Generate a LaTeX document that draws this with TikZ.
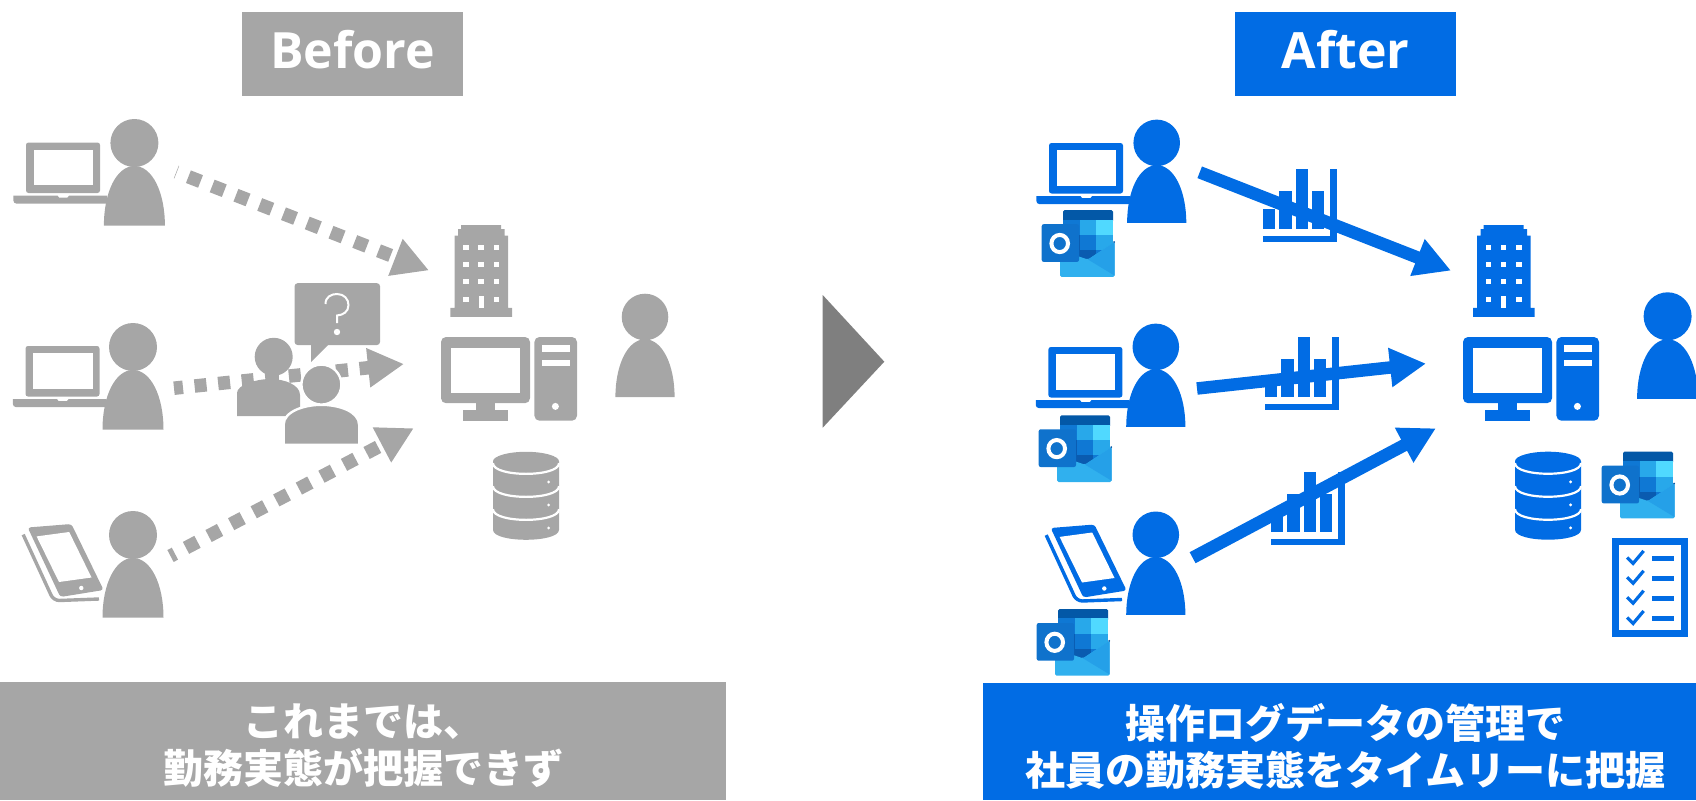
\documentclass[tikz,border=0pt]{standalone}
\usepackage{fontspec}
\setmainfont{Open Sans}
\newfontfamily\jpfont{Noto Sans CJK JP}
\usetikzlibrary{arrows.meta,positioning}
\definecolor{graytone}{HTML}{A6A6A6}
\definecolor{bluetone}{HTML}{016CE4}
\definecolor{darktone}{HTML}{7F7F7F}
\definecolor{olband}{HTML}{0358A7}
\definecolor{olA}{HTML}{0F78D4}
\definecolor{olB}{HTML}{28A8EA}
\definecolor{olC}{HTML}{50D9FF}
\definecolor{olD}{HTML}{0A5BB0}
\definecolor{olF}{HTML}{30B0EE}
\definecolor{olG}{HTML}{25A0E8}
\definecolor{olH}{HTML}{0F72CC}
\tikzset{
  bannerbox/.style={minimum height=84pt,inner sep=0pt},
  bannertext/.style={inner sep=0pt,text=white,font=\bfseries\fontsize{50}{56}\selectfont},
  captionbox/.style={minimum height=118pt,inner sep=0pt},
  captiontext/.style={inner sep=0pt,text=white,align=center,font=\jpfont\bfseries\fontsize{40}{47}\selectfont},
  dasharrow/.style={graytone,line width=13.5pt,dash pattern=on 13pt off 12.5pt,-{Triangle[length=36pt,width=37pt]}},
  solidarrow/.style={bluetone,line width=12.5pt,-{Triangle[length=36pt,width=37pt]}},
  pics/person/.style={code={
    \fill[#1] (0,0.5) ellipse [x radius=24,y radius=24];
    \fill[#1] (-30.5,83) .. controls (-30.5,50) and (-18,23.5) .. (0,23.5)
      .. controls (18,23.5) and (30.5,50) .. (30.5,83) -- cycle;
  }},
  pics/laptop/.style={code={
    \fill[#1,rounded corners=2.5pt] (0,0) rectangle (74,50.5);
    \fill[white] (7.5,7.1) rectangle (67,42.5);
    \fill[#1] (-12.6,53.2) -- (31.6,53.2) -- (33,55) -- (41.5,55) -- (43,53.2) -- (81,53.2)
      -- (81,61.1) -- (-9.6,61.1) .. controls (-11.6,61.1) and (-12.6,59.5) .. (-12.6,58) -- cycle;
  }},
  pics/tablet/.style={code={
    \fill[#1,rounded corners=3pt] (4.7,3.5) -- (48.4,0) -- (80.6,66) -- (37.3,73) -- cycle;
    \fill[white] (13.6,12.4) -- (46.2,8) -- (68.5,53.5) -- (36,58) -- cycle;
    \fill[white] (58.3,64) circle (2.2);
    \draw[#1,line width=3.4pt,rounded corners=6pt] (0.2,10.6) -- (30.6,76.7) -- (76,75);
  }},
  pics/building/.style={code={
    \fill[#1] (0,91.8) -- (0,82.9) -- (4.1,82.9) -- (4.1,10.7) -- (7.6,10.7) -- (7.6,4) -- (10.6,4)
      -- (10.6,0) -- (50.6,0) -- (50.6,4) -- (54.1,4) -- (54.1,10.7) -- (57.6,10.7)
      -- (57.6,82.9) -- (61.6,82.9) -- (61.6,91.8) -- cycle;
    \foreach \wx in {15.6,30.6,46} \foreach \wy in {22,39.6,56.4}
      \fill[white] (\wx-2.75,\wy-2.5) rectangle (\wx+2.75,\wy+2.5);
    \foreach \wx in {15.6,46}
      \fill[white] (\wx-2.75,71.8) rectangle (\wx+2.75,76.8);
    \fill[white] (28.1,71.4) rectangle (33.1,82.9);
  }},
  pics/desktop/.style={code={
    \fill[#1,rounded corners=5pt] (0,0) rectangle (89,66.2);
    \fill[white] (10,10.5) rectangle (79,55.5);
    \fill[#1] (35,66) rectangle (53.6,73.6);
    \fill[#1] (22,73.4) rectangle (67,83.7);
    \fill[#1,rounded corners=5pt] (93.4,0) rectangle (136,83.7);
    \fill[white] (101,8) rectangle (128.6,14.8);
    \fill[white] (101,22.6) rectangle (128.6,29.4);
    \fill[white] (114.4,69.4) circle (3.5);
  }},
  pics/database/.style={code={
    \fill[#1] (-33,9.6) -- (-33,78) .. controls (-33,91.3) and (33,91.3) .. (33,78) -- (33,9.6) -- cycle;
    \fill[#1] (0,9.6) ellipse [x radius=33,y radius=9.6];
    \foreach \dy in {11.4,34.4,57.4}
      \draw[white,line width=2.2pt] (-33,\dy) .. controls (-33,\dy+14.2) and (33,\dy+14.2) .. (33,\dy);
    \foreach \dy in {30.2,53.2,76.2}
      \fill[white] (22.6,\dy) circle (1.6);
  }},
  pics/barchart/.style={code={
    \fill[#1] (0,40.3) rectangle (12.3,60.3);
    \fill[#1] (16.6,22.3) rectangle (29,60.3);
    \fill[#1] (33,0) rectangle (45,60.3);
    \fill[#1] (49.3,22.3) rectangle (61.3,60.3);
    \fill[#1] (67.3,0) rectangle (74,73);
    \fill[#1] (0.6,67) rectangle (74,73);
  }},
  pics/outlook/.style={code={
    \fill[olband,rounded corners=1.5pt] (0,0) rectangle (50,12);
    \fill[olA] (0,9.4) rectangle (16.7,25);
    \fill[olB] (16.7,9.4) rectangle (33.3,25);
    \fill[olC] (33.3,9.4) rectangle (50,25);
    \fill[olD] (0,25) rectangle (16.7,40);
    \fill[olA] (16.7,25) rectangle (33.3,40);
    \fill[olB] (33.3,25) rectangle (50,40);
    \fill[olD] (0,40) rectangle (33.3,52);
    \fill[olA] (33.3,40) rectangle (50,52);
    \fill[olF,rounded corners=1.5pt] (-3,40) -- (25,49.3) -- (51.7,31.7) -- (51.7,66.7) -- (-3,66.7) -- cycle;
    \fill[olG] (25,49.3) -- (51.7,31.7) -- (51.7,65.5) -- cycle;
    \fill[olband] (51.2,31.8) circle (1);
    \fill[olH,rounded corners=2pt] (-21.3,14) rectangle (16,51.7);
    \draw[white,line width=4pt] (-3.3,33.3) ellipse [x radius=8.3,y radius=8.6];
  }},
  pics/checklist/.style={code={
    \draw[#1,line width=7pt] (3.5,3.5) rectangle (72.9,95.2);
    \foreach \ry in {20.6,40.5,60.4,80.7} {
      \draw[#1,line width=3.2pt] (15.5,\ry-1) -- (21.5,\ry+5) -- (32,\ry-7.5);
      \fill[#1] (40.4,\ry-2.3) rectangle (62.2,\ry+2.3);
    }
  }}
}
\begin{document}
\begin{tikzpicture}[x=1pt,y=-1pt]
  \useasboundingbox (0,0) rectangle (1696,800);
  \node [bannerbox,fill=graytone,minimum width=220.7pt] (beforeBox) at (352.4,54) {};
  \node [bannerbox,fill=bluetone,minimum width=221pt] (afterBox) at (1345.5,54) {};
  \node [bannertext] (beforeText) at (352.4,50) {Before};
  \node [bannertext] (afterText) at (1345.5,50) {After};
  \node [captionbox,fill=graytone,minimum width=726pt] (capLeftBox) at (363,741) {};
  \node [captionbox,fill=bluetone,minimum width=713pt,minimum height=117pt] (capRightBox) at (1339.5,741.5) {};
  \node [captiontext] (capLeftText) at (363,746) {これまでは、\\勤務実態が把握できず};
  \node [captiontext] (capRightText) at (1345.5,746) {操作ログデータの管理で\\社員の勤務実態をタイムリーに把握};
  \fill[darktone] (822.7,295) -- (884.3,361.7) -- (822.7,427.7) -- cycle;

  \coordinate (gs1) at (176.3,172);
  \coordinate (ge1) at (429,270.4);
  \coordinate (gs2) at (174,388.2);
  \coordinate (ge2) at (404,364);
  \coordinate (gs3) at (170.5,556);
  \coordinate (ge3) at (413.8,428.2);
  \draw[dasharrow,dash phase=12.5pt] (gs1) -- (ge1);
  \draw[dasharrow,dash pattern=on 12pt off 11.7pt,dash phase=3pt] (gs2) -- (ge2);
  \draw[dasharrow,dash phase=8pt] (gs3) -- (ge3);

  \pic at (26,142.5) {laptop=graytone};
  \pic at (25.5,346) {laptop=graytone};
  \pic at (23,524) {tablet=graytone};
  \pic at (134.4,142.5) {person=graytone};
  \pic at (133,346.5) {person=graytone};
  \pic at (133,534.5) {person=graytone};
  \pic[scale=.97] at (645,316.5) {person=graytone};
  \pic at (450.4,225) {building=graytone};
  \pic at (441,337) {desktop=graytone};
  \pic at (526,451.8) {database=graytone};

  \fill[graytone,rounded corners=3pt] (294.6,283.2) rectangle (380,345);
  \fill[graytone] (311,344) -- (311,362) -- (329,344) -- cycle;
  \draw[white,line width=2pt] (325.5,304) .. controls (325.5,297) and (331,294) .. (337,294)
    .. controls (344,294) and (348.5,299) .. (348.5,305) .. controls (348.5,312) and (343,315) .. (337,315.5) -- (337,323);
  \fill[white] (337,332) circle (3.2);
  \fill[graytone] (273.7,356.8) circle (19);
  \fill[graytone] (266.5,372) rectangle (279,382);
  \fill[graytone] (237,416) -- (237,393) .. controls (237,385) and (256,379) .. (270,379)
    .. controls (285,379) and (300,385) .. (300,395) -- (300,416) -- cycle;
  \fill[graytone,draw=white,line width=2.4pt] (283.6,444.8) -- (283.6,425) .. controls (283.6,411) and (305,404.8) .. (321.4,404.8)
    .. controls (338,404.8) and (359.2,411) .. (359.2,425) -- (359.2,444.8) -- cycle;
  \fill[graytone,draw=white,line width=2.4pt] (321.4,384.6) circle (20);

  \coordinate (bs1) at (1199.7,172.3);
  \coordinate (be1) at (1451,270.6);
  \coordinate (bs2) at (1197,388.5);
  \coordinate (be2) at (1426,363.6);
  \coordinate (bs3) at (1192.6,557.7);
  \coordinate (be3) at (1435.9,428.3);
  \draw[solidarrow] (bs1) -- (be1);
  \draw[solidarrow] (bs2) -- (be2);
  \draw[solidarrow] (bs3) -- (be3);

  \pic at (1262.7,168.7) {barchart=bluetone};
  \pic at (1264.5,337.1) {barchart=bluetone};
  \pic at (1270.7,471.7) {barchart=bluetone};
  \pic at (1049,143) {laptop=bluetone};
  \pic at (1048.4,347) {laptop=bluetone};
  \pic at (1046,524.5) {tablet=bluetone};
  \pic[scale=.97] at (1156.7,142.4) {person=bluetone};
  \pic[scale=.97] at (1155.8,346.4) {person=bluetone};
  \pic[scale=.97] at (1155.8,534.3) {person=bluetone};
  \pic at (1667.6,315.8) {person=bluetone};
  \pic at (1473,225) {building=bluetone};
  \pic at (1463,337) {desktop=bluetone};
  \pic at (1548,451.7) {database=bluetone};
  \pic at (1063,210.2) {outlook};
  \pic at (1060,415.3) {outlook};
  \pic at (1058,609) {outlook};
  \pic at (1623,451.7) {outlook};
  \pic at (1611.6,537.8) {checklist=bluetone};
\end{tikzpicture}
\end{document}
